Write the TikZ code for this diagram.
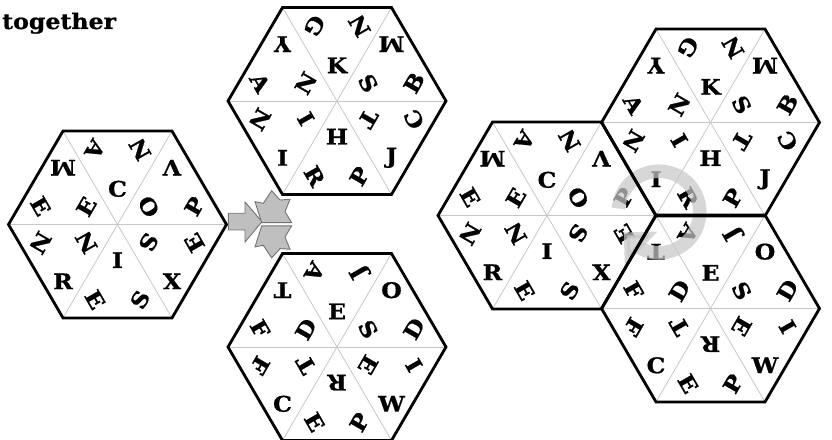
\documentclass[tikz,border=0pt]{standalone}
\usepackage{fontspec}
\setmainfont{DejaVu Serif}
\newfontfamily\tilefont{DejaVu Serif}[FakeStretch=1.1, FakeBold=0.8]
\usetikzlibrary{calc, arrows.meta, bending}

\newcommand{\hexR}{109}

% one tile: spokes and the three letters of each of its six triangles
\newcommand{\hextile}[4]{%
  \begin{scope}[shift={#2}, yscale=0.99]
    \coordinate (#1) at (0,0);
    \draw[spoke] (180:\hexR) -- (0:\hexR);
    \draw[spoke] (120:\hexR) -- (300:\hexR);
    \draw[spoke] (60:\hexR) -- (240:\hexR);
    \foreach \ltr [count=\k from 0] in {#3}
      \node[tileletter, rotate=60*\k-60] (#1-i\k) at (30+60*\k:36) {\ltr};
    \foreach \la/\lb [count=\k from 0] in {#4} {
      \node[tileletter, rotate=60*\k+60] (#1-a\k) at ($(60*\k:\hexR)+(60*\k+150:37)$) {\la};
      \node[tileletter, rotate=60*\k+180] (#1-b\k) at ($(60*\k+60:\hexR)+(60*\k+270:37)$) {\lb};
    }
  \end{scope}}

\newcommand{\hexrim}[1]{%
  \draw[tileedge, shift={(#1)}, yscale=0.99]
    (0:\hexR) -- (60:\hexR) -- (120:\hexR) -- (180:\hexR) -- (240:\hexR) -- (300:\hexR) -- cycle;}

\begin{document}
\begin{tikzpicture}[
    x=1pt, y=1pt,
    tileletter/.style={font=\tilefont\fontsize{21.5}{24}\selectfont\bfseries, inner sep=0pt},
    spoke/.style={draw=black!22, line width=0.8},
    tileedge/.style={draw=black, line width=2.8, line join=miter},
    splitpiece/.style={fill=black!25, draw=black!55, line width=0.9, line join=miter},
    ring/.style={draw=black!22, line width=13.5, opacity=0.72,
        -{Triangle[length=24pt, width=46pt]}}
    ]
    \useasboundingbox (0,0) rectangle (832,439);

    \node[anchor=base west, inner sep=0pt, font=\tilefont\fontsize{21.5}{24}\selectfont\bfseries] (caption) at (2,410) {together};

    % tiles taken apart
    \hextile{lhex}{(117.5,214.5)}{O,C,E,N,I,S}{P/V,N/A,M/E,N/R,E/S,X/E}
    \hextile{thex}{(337,338)}{S,K,N,I,H,T}{B/M,N/G,Y/A,N/I,R/P,J/C}
    \hextile{bhex}{(337,92)}{S,E,D,T,R,E}{D/O,J/A,T/F,F/C,E/P,W/I}
    \hexrim{lhex}
    \hexrim{thex}
    \hexrim{bhex}

    % split arrow
    \filldraw[splitpiece] (228.3,209) -- (228.3,225.7) -- (245,225.7) -- (245,237)
        -- (262,217.3) -- (245,197) -- (245,209) -- cycle;
    \filldraw[splitpiece] (261.7,216.3) -- (255,237.3) -- (263.3,235.7) -- (271.7,248.3)
        -- (280,239) -- (290,239.7) -- (285,227.3) -- (291.7,216.3) -- cycle;
    \filldraw[splitpiece] (261.7,213.1) -- (255,192.1) -- (263.3,193.7) -- (271.7,181.1)
        -- (280,190.4) -- (290,189.7) -- (285,202.1) -- (291.7,213.1) -- cycle;

    % tiles put together
    \hextile{rlhex}{(547,223.5)}{O,C,E,N,I,S}{P/V,N/A,M/E,N/R,E/S,X/E}
    \hextile{rthex}{(710.5,316.5)}{S,K,N,I,H,T}{B/M,N/G,Y/A,N/I,R/P,J/C}
    \hextile{rbhex}{(710.5,130.5)}{S,E,D,T,R,E}{D/O,J/A,T/F,F/C,E/P,W/I}

    % PIRATE read round the corner
    \coordinate (meet) at ($(rlhex)+(\hexR+3,3.5)$);
    \draw[ring] ($(meet)+(175:40.8)$) arc[start angle=175, end angle=-150, radius=40.8];

    \hexrim{rlhex}
    \hexrim{rthex}
    \hexrim{rbhex}
\end{tikzpicture}
\end{document}
